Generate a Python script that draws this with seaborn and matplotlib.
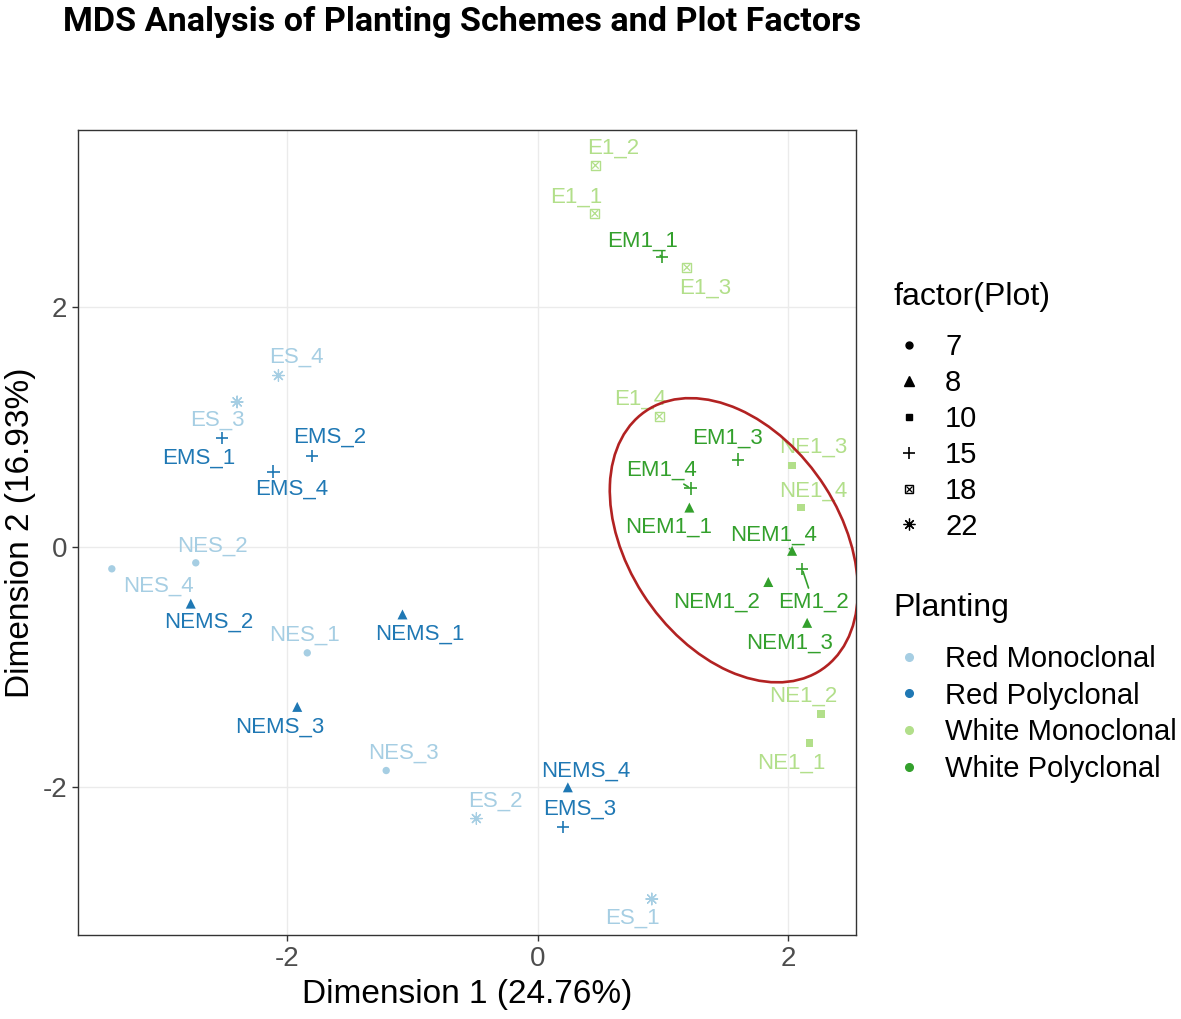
import numpy as np
import pandas as pd
import seaborn as sns
import matplotlib.pyplot as plt
from matplotlib.lines import Line2D
from matplotlib.patches import Ellipse

# MDS coordinates
samples = ["ES_1", "ES_2", "ES_3", "ES_4", "NES_1", "NES_2", "NES_3", "NES_4",
           "EMS_1", "EMS_2", "EMS_3", "EMS_4", "NEMS_1", "NEMS_2", "NEMS_3", "NEMS_4",
           "E1_1", "E1_2", "E1_3", "E1_4", "NE1_1", "NE1_2", "NE1_3", "NE1_4",
           "EM1_1", "EM1_2", "EM1_3", "EM1_4", "NEM1_1", "NEM1_2", "NEM1_3", "NEM1_4"]
dim1 = [0.91, -0.49, -2.40, -2.07, -1.84, -2.73, -1.21, -3.40,
        -2.52, -1.80, 0.20, -2.11, -1.08, -2.77, -1.92, 0.24,
        0.455, 0.46, 1.19, 0.97, 2.17, 2.26, 2.03, 2.10,
        0.99, 2.11, 1.60, 1.22, 1.21, 1.84, 2.15, 2.03]
dim2 = [-2.93, -2.26, 1.21, 1.43, -0.88, -0.13, -1.86, -0.18,
        0.91, 0.76, -2.33, 0.63, -0.56, -0.47, -1.33, -2.00,
        2.78, 3.18, 2.33, 1.09, -1.63, -1.39, 0.68, 0.33,
        2.42, -0.18, 0.73, 0.49, 0.33, -0.29, -0.63, -0.03]
planting = (["Red Monoclonal"] * 8 + ["Red Polyclonal"] * 8
            + ["White Monoclonal"] * 8 + ["White Polyclonal"] * 8)
plot_id = [22, 22, 22, 22, 7, 7, 7, 7,
           15, 15, 15, 15, 8, 8, 8, 8,
           18, 18, 18, 18, 10, 10, 10, 10,
           15, 15, 15, 15, 8, 8, 8, 8]

planting_levels = ["Red Monoclonal", "Red Polyclonal", "White Monoclonal", "White Polyclonal"]
planting_colors = ["#A6CEE3", "#1F78B4", "#B2DF8A", "#33A02C"]
plot_levels = [7, 8, 10, 15, 18, 22]

df = pd.DataFrame({"Sample": samples, "Dim1": dim1, "Dim2": dim2,
                   "Planting": planting, "Plot": plot_id})
palette = dict(zip(planting_levels, planting_colors))

# label offsets in pixels (right, up), mimicking ggrepel placement
label_offsets = {
    "ES_1": (-19, -19), "ES_2": (19, 17), "ES_3": (-20, -18), "ES_4": (18, 18),
    "NES_1": (-3, 18), "NES_2": (17, 17), "NES_3": (17, 17), "NES_4": (47, -17),
    "EMS_1": (-23, -20), "EMS_2": (17, 19), "EMS_3": (17, 18), "EMS_4": (18, -18),
    "NEMS_1": (17, -20), "NEMS_2": (18, -19), "NEMS_3": (-17, -20), "NEMS_4": (18, 16),
    "E1_1": (-19, 16), "E1_2": (18, 17), "E1_3": (18, -21), "E1_4": (-19, 17),
    "NE1_1": (-18, -20), "NE1_2": (-18, 18), "NE1_3": (21, 18), "NE1_4": (12, 16),
    "EM1_1": (-19, 15), "EM1_2": (11, -33), "EM1_3": (-11, 21), "EM1_4": (-29, 18),
    "NEM1_1": (-21, -20), "NEM1_2": (-52, -20), "NEM1_3": (-18, -20), "NEM1_4": (-19, 16),
}
segment_labels = {"EM1_2", "EM1_4", "NEM1_4", "EM1_1"}

sns.set_style("white")
plt.rcParams["font.family"] = ["Liberation Sans", "DejaVu Sans"]
plt.rcParams["text.color"] = "black"
plt.rcParams["axes.labelcolor"] = "black"

W, H = 1181, 1019
fig = plt.figure(figsize=(W / 100, H / 100), dpi=100)
ax = fig.add_axes([78 / W, 1 - 935 / H, 778 / W, 805 / H])

shape_markers = {7: "o", 8: "^", 10: "s", 15: "+", 18: "s", 22: (8, 2, 0)}
shape_sizes = {7: 28, 8: 52, 10: 28, 15: 80, 18: 40, 22: 70}
line_widths = {15: 1.2, 22: 0.9}

for pid in plot_levels:
    sub = df[df["Plot"] == pid]
    m = shape_markers[pid]
    if pid in line_widths:
        sns.scatterplot(data=sub, x="Dim1", y="Dim2", hue="Planting", palette=palette,
                        marker=m, s=shape_sizes[pid], linewidth=line_widths[pid],
                        legend=False, ax=ax, zorder=3)
    else:
        sns.scatterplot(data=sub, x="Dim1", y="Dim2", hue="Planting", palette=palette,
                        marker=m, s=shape_sizes[pid], linewidth=0, edgecolor="none",
                        legend=False, ax=ax, zorder=3)
    if pid == 18:
        # hollow square with a cross (ggplot shape 7)
        coll = ax.collections[-1]
        fc = coll.get_facecolors()
        coll.set_edgecolors(fc)
        coll.set_facecolors("none")
        coll.set_linewidth(1.0)
        sns.scatterplot(data=sub, x="Dim1", y="Dim2", hue="Planting", palette=palette,
                        marker="x", s=22, linewidth=0.9, legend=False, ax=ax, zorder=3)

# text labels
for _, row in df.iterrows():
    dx, dy = label_offsets[row["Sample"]]
    col = palette[row["Planting"]]
    arrow = None
    if row["Sample"] in segment_labels:
        arrow = dict(arrowstyle="-", color=col, lw=1.2, shrinkA=0, shrinkB=2)
    ax.annotate(row["Sample"], xy=(row["Dim1"], row["Dim2"]),
                xytext=(dx * 0.72, dy * 0.72), textcoords="offset points",
                ha="center", va="center", fontsize=16, color=col,
                arrowprops=arrow, zorder=4)

# highlight ellipse around the white polyclonal cluster
ax.add_patch(Ellipse((1.565, 0.058), width=2.572, height=1.706, angle=-58.5,
                     fill=False, ec="#B22222", lw=1.9, zorder=5))

ax.set_xlim(-3.67, 2.54)
ax.set_ylim(-3.23, 3.475)
ax.set_xticks([-2, 0, 2])
ax.set_yticks([-2, 0, 2])
ax.set_xticklabels(["-2", "0", "2"])
ax.set_yticklabels(["-2", "0", "2"])
ax.grid(True, color="#EBEBEB", lw=1.0)
ax.set_axisbelow(True)
for sp in ax.spines.values():
    sp.set_color("#333333")
    sp.set_linewidth(1.0)
ax.tick_params(axis="both", length=4, width=1, color="#333333",
               labelsize=20, labelcolor="#4D4D4D", pad=4)
ax.tick_params(axis="both", which="both", bottom=True, left=True)

ax.set_xlabel("Dimension 1 (24.76%)", fontsize=24, color="black")
ax.set_ylabel("Dimension 2 (16.93%)", fontsize=24, color="black")
ax.xaxis.set_label_coords(0.5, -0.055)
ax.yaxis.set_label_coords(-0.054, 0.5)

fig.text(63 / W, 1 - 22 / H, "MDS Analysis of Planting Schemes and Plot Factors",
         fontsize=24.6, fontweight="bold", family="Roboto", color="black",
         va="center", ha="left")

# legends
leg_fs = 21
x_left = (909 - 0.5 * leg_fs * 1.389) / W
shape_handles = [
    Line2D([], [], ls="", marker="o", color="black", ms=5),
    Line2D([], [], ls="", marker="^", color="black", ms=6.5),
    Line2D([], [], ls="", marker="s", color="black", ms=5),
    Line2D([], [], ls="", marker="+", color="black", ms=9, mew=1.2),
    (Line2D([], [], ls="", marker="s", mfc="none", mec="black", ms=6, mew=1.0),
     Line2D([], [], ls="", marker="x", color="black", ms=4.5, mew=0.9)),
    Line2D([], [], ls="", marker=(8, 2, 0), color="black", ms=8.5, mew=0.9),
]
leg1 = fig.legend(shape_handles, [str(p) for p in plot_levels], loc="center left",
                  bbox_to_anchor=(x_left, 1 - 437 / H), frameon=False, fontsize=leg_fs,
                  handlelength=1.0, handletextpad=0.74, labelspacing=0.27,
                  borderpad=0, borderaxespad=0, labelcolor="black")
color_handles = [Line2D([], [], ls="", marker="o", color=c, ms=5.5) for c in planting_colors]
leg2 = fig.legend(color_handles, planting_levels, loc="center left",
                  bbox_to_anchor=(x_left, 1 - 714 / H), frameon=False, fontsize=leg_fs,
                  handlelength=1.0, handletextpad=0.74, labelspacing=0.3,
                  borderpad=0, borderaxespad=0, labelcolor="black")
fig.text(893 / W, 1 - 297 / H, "factor(Plot)", fontsize=23, color="black",
         va="center", ha="left")
fig.text(893 / W, 1 - 608 / H, "Planting", fontsize=23, color="black",
         va="center", ha="left")

fig.savefig("out.png", dpi=100)
